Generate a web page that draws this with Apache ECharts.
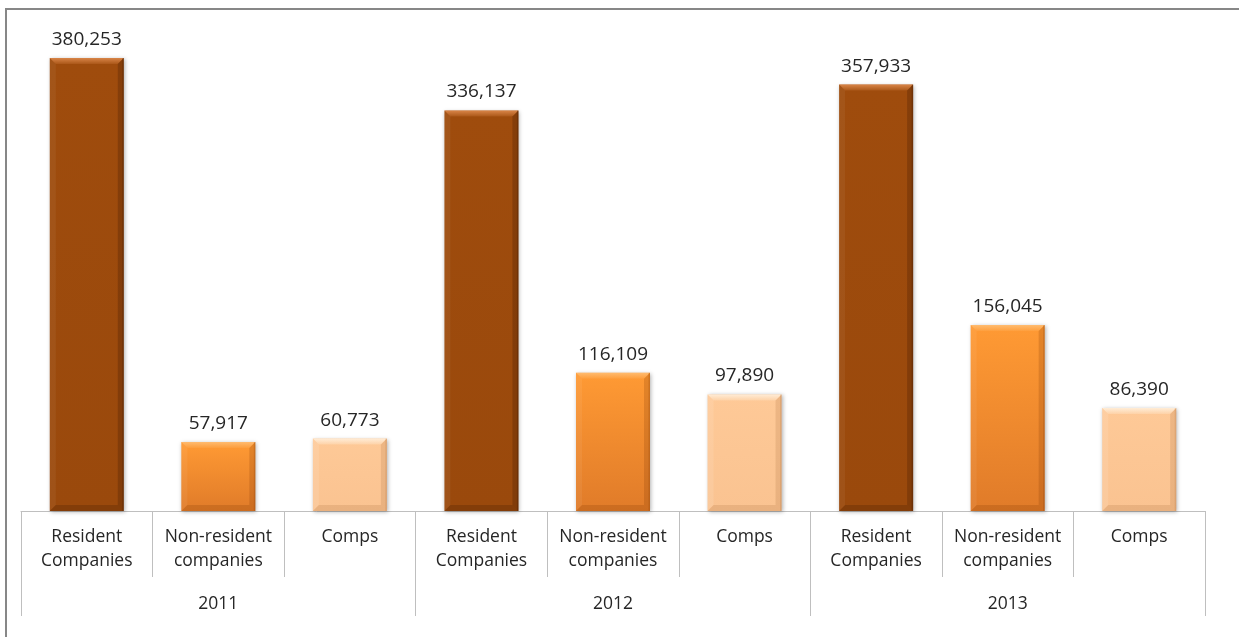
<!DOCTYPE html>
<html>
<head>
<meta charset="utf-8">
<title>Companies by year</title>
<script src="https://cdn.jsdelivr.net/npm/echarts@6/dist/echarts.min.js"></script>
<style>
  html, body { margin: 0; padding: 0; background: #ffffff; }
  #chart { width: 1239px; height: 637px; }
</style>
</head>
<body>
<div id="chart"></div>
<script>
// Years (outer axis level) and company types (inner axis level)
const years = ['2011', '2012', '2013'];
const types = ['Resident\nCompanies', 'Non-resident\ncompanies', 'Comps'];

// Counts, in order: each year's Resident, Non-resident, Comps
const values = [380253, 57917, 60773, 336137, 116109, 97890, 357933, 156045, 86390];

// Fill per company type: [top, bottom] of the bar body
const typeFill = [
  ['#9f4c0d', '#9a490c'],
  ['#ff9a34', '#e07b29'],
  ['#fec997', '#fac391']
];
// Bevel facet tints per company type
const typeBevel = [
  { top: ['rgba(255,170,110,0.6)', 'rgba(255,170,110,0.12)'], left: 'rgba(255,255,255,0.05)', right: 'rgba(40,15,0,0.22)', bottom: 'rgba(40,15,0,0.2)' },
  { top: ['rgba(255,220,170,0.5)', 'rgba(255,220,170,0.08)'], left: 'rgba(255,255,255,0.06)', right: 'rgba(120,50,0,0.2)', bottom: 'rgba(120,50,0,0.2)' },
  { top: ['rgba(255,245,230,0.8)', 'rgba(255,245,230,0.2)'], left: 'rgba(255,255,255,0.1)', right: 'rgba(150,90,40,0.16)', bottom: 'rgba(150,90,40,0.16)' }
];

const categories = years.flatMap(() => types);
const BAR_W = 74;
const BEVEL = 6;

const chart = echarts.init(document.getElementById('chart'), null, { renderer: 'canvas' });

const barData = values.map((v, i) => {
  const f = typeFill[i % 3];
  return {
    value: v,
    itemStyle: {
      color: new echarts.graphic.LinearGradient(0, 0, 0, 1, [
        { offset: 0, color: f[0] },
        { offset: 1, color: f[1] }
      ])
    }
  };
});

// Bevelled facets drawn over each bar, positioned through the axis scales
function renderBevel(params, api) {
  const i = api.value(0);
  const v = api.value(1);
  const top = api.coord([i, v]);
  const base = api.coord([i, 0]);
  const x0 = top[0] - BAR_W / 2;
  const x1 = x0 + BAR_W;
  const y0 = top[1];
  const y1 = base[1];
  const b = Math.min(BEVEL, (y1 - y0) / 2);
  const t = typeBevel[i % 3];
  return {
    type: 'group',
    children: [
      {
        type: 'polygon',
        shape: { points: [[x0, y0], [x1, y0], [x1 - b, y0 + b], [x0 + b, y0 + b]] },
        style: {
          fill: new echarts.graphic.LinearGradient(0, 0, 0, 1, [
            { offset: 0, color: t.top[0] },
            { offset: 1, color: t.top[1] }
          ])
        }
      },
      {
        type: 'polygon',
        shape: { points: [[x0, y0], [x0 + b, y0 + b], [x0 + b, y1 - b], [x0, y1]] },
        style: { fill: t.left }
      },
      {
        type: 'polygon',
        shape: { points: [[x1, y0], [x1, y1], [x1 - b, y1 - b], [x1 - b, y0 + b]] },
        style: { fill: t.right }
      },
      {
        type: 'polygon',
        shape: { points: [[x0, y1], [x0 + b, y1 - b], [x1 - b, y1 - b], [x1, y1]] },
        style: { fill: t.bottom }
      },
      {
        type: 'rect',
        shape: { x: x1 - 1.5, y: y0, width: 1.5, height: y1 - y0 },
        style: { fill: t.right }
      }
    ]
  };
}

const axisColor = '#bfbfbf';
const textColor = '#262626';
const fontFamily = '"Open Sans", "Noto Sans", sans-serif';

chart.setOption({
  backgroundColor: '#ffffff',
  animation: false,
  graphic: [
    {
      type: 'rect',
      shape: { x: 6, y: 9, width: 1400, height: 800 },
      style: { fill: 'none', stroke: '#878787', lineWidth: 2 },
      silent: true,
      z: -1
    }
  ],
  grid: { left: 21, right: 34, top: 34.5, bottom: 126, containLabel: false },
  xAxis: [
    {
      type: 'category',
      data: categories,
      position: 'bottom',
      axisLine: { show: true, lineStyle: { color: axisColor, width: 1 } },
      axisTick: { show: true, length: 66, lineStyle: { color: axisColor, width: 1 } },
      axisLabel: {
        margin: 14,
        color: textColor,
        fontFamily: fontFamily,
        fontSize: 17.5,
        lineHeight: 24,
        interval: 0
      },
      splitLine: { show: false }
    },
    {
      type: 'category',
      data: years,
      position: 'bottom',
      axisLine: { show: false },
      axisTick: { show: true, length: 105, lineStyle: { color: axisColor, width: 1 } },
      axisLabel: {
        margin: 81,
        color: textColor,
        fontFamily: fontFamily,
        fontSize: 17.5,
        lineHeight: 24,
        interval: 0
      },
      splitLine: { show: false }
    }
  ],
  yAxis: {
    type: 'value',
    min: 0,
    max: 400000,
    show: false,
    splitLine: { show: false }
  },
  series: [
    {
      type: 'bar',
      xAxisIndex: 0,
      data: barData,
      barWidth: BAR_W,
      itemStyle: {
        shadowColor: 'rgba(0,0,0,0.3)',
        shadowBlur: 4,
        shadowOffsetX: 1,
        shadowOffsetY: 1
      },
      label: {
        show: true,
        position: 'top',
        distance: 9,
        color: textColor,
        fontFamily: fontFamily,
        fontSize: 19,
        formatter: p => p.value.toLocaleString('en-US')
      },
      z: 2
    },
    {
      type: 'custom',
      xAxisIndex: 0,
      data: values.map((v, i) => [i, v]),
      encode: { x: 0, y: 1 },
      renderItem: renderBevel,
      silent: true,
      z: 3
    }
  ]
});
</script>
</body>
</html>
